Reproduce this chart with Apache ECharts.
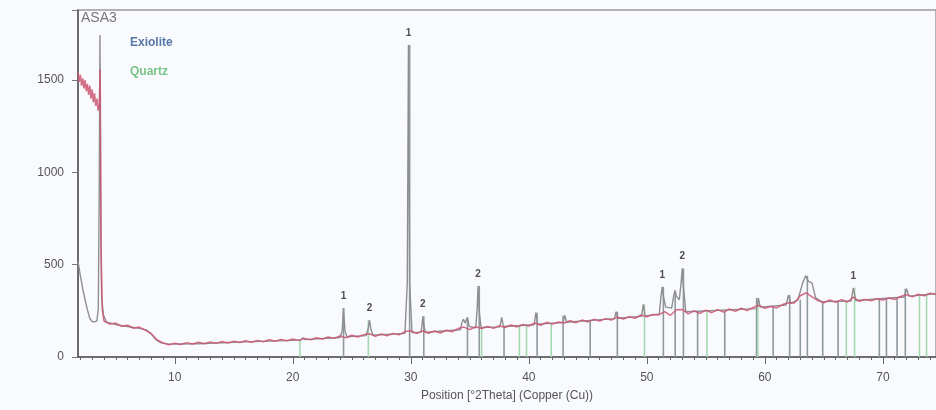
<!DOCTYPE html>
<html>
<head>
<meta charset="utf-8">
<script src="https://cdn.jsdelivr.net/npm/echarts@6/dist/echarts.min.js"></script>
<style>
  html, body { margin: 0; padding: 0; background: #f8fafd; }
  #chart { width: 936px; height: 410px; }
</style>
</head>
<body>
<div id="chart"></div>
<script>
// Sample ASA3 – X-ray diffraction scan, Cu K-alpha
const sampleName = 'ASA3';
const axisTitle = 'Position [°2Theta] (Copper (Cu))';
const xTickLabels = [10, 20, 30, 40, 50, 60, 70];
const yTickLabels = [0, 500, 1000, 1500];
const phaseNames = ['Exiolite', 'Quartz'];

// Measured counts [°2θ, counts]
const observed = [
  [1.8,1545],[1.9,1490],[2.0,1530],[2.1,1470],[2.2,1510],[2.3,1455],[2.4,1500],[2.5,1440],
  [2.6,1480],[2.7,1420],[2.8,1470],[2.9,1400],[3.0,1450],[3.1,1380],[3.2,1430],[3.3,1360],
  [3.4,1400],[3.5,1335],[3.6,1370],[3.68,1560],[3.75,600],[3.85,260],[4.0,195],[4.5,178],
  [5.0,184],[5.5,166],[6.0,172],[6.5,156],[7.0,162],[7.5,146],[8.0,128],[8.5,92],[9.0,76],
  [9.5,66],[10.0,74],[10.5,68],[11.0,78],[11.5,70],[12.0,80],[12.5,72],[13.0,82],[13.5,74],
  [14.0,84],[14.5,76],[15.0,86],[15.5,79],[16.0,88],[16.5,80],[17.0,90],[17.5,83],[18.0,93],
  [18.5,85],[19.0,95],[19.5,88],[20.0,97],[20.5,90],[21.0,101],[21.5,93],[22.0,104],[22.5,97],
  [23.0,108],[23.5,101],[24.0,114],[24.5,104],[25.0,118],[25.5,108],[26.0,121],[26.5,126],
  [27.0,112],[27.5,125],[28.0,115],[28.5,128],[29.0,120],[29.5,138],[30.0,142],[30.5,127],
  [31.0,141],[31.5,129],[32.0,141],[32.5,130],[33.0,145],[33.5,137],[34.0,154],[34.5,162],
  [35.0,148],[35.5,164],[36.0,154],[36.5,166],[37.0,155],[37.5,169],[38.0,160],[38.5,173],
  [39.0,163],[39.5,176],[40.0,168],[40.5,184],[41.0,172],[41.5,188],[42.0,178],[42.5,190],
  [43.0,184],[43.5,196],[44.0,186],[44.5,200],[45.0,190],[45.5,204],[46.0,195],[46.5,208],
  [47.0,200],[47.5,216],[48.0,206],[48.5,219],[49.0,210],[49.5,228],[50.0,218],[50.5,230],
  [51.0,228],[51.5,246],[52.0,226],[52.5,256],[53.0,258],[53.5,234],[54.0,250],[54.5,236],
  [55.0,254],[55.5,240],[56.0,257],[56.5,243],[57.0,260],[57.5,247],[58.0,264],[58.5,251],
  [59.0,268],[59.5,280],[60.0,264],[60.5,274],[61.0,266],[61.5,284],[62.0,294],[62.5,292],
  [63.0,332],[63.5,348],[64.0,326],[64.5,306],[65.0,294],[65.5,309],[66.0,296],[66.5,311],
  [67.0,298],[67.5,324],[68.0,302],[68.5,312],[69.0,304],[69.5,316],[70.0,309],[70.5,320],
  [71.0,312],[71.5,328],[72.0,338],[72.5,326],[73.0,340],[73.5,332],[74.0,346],[74.5,340]
];

// Fitted profile [°2θ, counts]
const profile = [
  [1.8,520],[2.0,440],[2.2,370],[2.4,310],[2.6,255],[2.8,210],[3.0,192],[3.2,190],[3.4,196],
  [3.52,260],[3.6,900],[3.66,1745],[3.72,900],[3.8,330],[3.95,230],[4.2,190],[5,175],[6,165],
  [7,155],[7.6,146],[8.0,124],[8.4,95],[8.8,78],[9.5,70],[12,72],[16,82],[20,90],[20.7,93],
  [20.85,105],[21.0,94],[24.0,106],[24.18,140],[24.3,265],[24.42,140],[24.6,110],[26.2,116],
  [26.38,150],[26.5,200],[26.62,150],[26.8,118],[29.5,128],[29.7,400],[29.8,1690],[29.9,400],
  [30.1,132],[30.85,134],[30.95,170],[31.02,220],[31.1,170],[31.25,134],[34.2,148],[34.35,190],
  [34.45,205],[34.6,185],[34.8,215],[34.95,165],[35.5,158],[35.62,260],[35.7,385],[35.78,260],
  [35.95,160],[37.55,163],[37.7,215],[37.85,165],[40.45,175],[40.6,240],[40.75,178],[42.9,187],
  [43.05,225],[43.2,188],[47.25,208],[47.4,245],[47.55,210],[49.55,220],[49.7,285],[49.85,223],
  [51.05,232],[51.2,330],[51.3,380],[51.4,330],[51.6,270],[52.1,265],[52.3,340],[52.4,360],
  [52.5,330],[52.75,310],[52.9,400],[53.0,480],[53.1,380],[53.3,245],[59.3,262],[59.45,320],
  [59.6,270],[61.8,282],[62.0,335],[62.2,290],[62.8,310],[63.2,400],[63.45,440],[63.7,410],
  [64.0,400],[64.3,320],[64.8,300],[67.3,303],[67.5,375],[67.7,306],[71.8,325],[72.0,370],
  [72.2,330],[74.5,343]
];

// Reference stick patterns [°2θ, counts]
const exioliteSticks = [
  [24.3,265],[29.9,1690],[31.1,220],[34.8,210],[35.8,385],[37.9,165],[40.7,240],[42.9,225],
  [45.2,195],[47.5,245],[51.4,380],[52.4,360],[53.1,480],[54.3,245],[56.6,250],[59.3,320],
  [60.7,270],[62.1,335],[63.0,310],[63.6,440],[64.9,300],[66.2,300],[69.7,312],[70.3,315],
  [71.2,318],[71.9,370]
];
const quartzSticks = [
  [20.6,95],[26.4,200],[36.0,160],[39.2,170],[39.8,172],[41.9,180],[49.8,285],[55.1,247],
  [59.4,300],[66.9,302],[67.6,375],[73.1,333],[73.7,338]
];

// Phase markers above identified reflections [°2θ, counts, phase no.]
const peakMarks = [
  [24.3,265,'1'],[26.5,200,'2'],[29.8,1690,'1'],[31.02,220,'2'],[35.7,385,'2'],
  [51.3,380,'1'],[53.0,480,'2'],[67.5,375,'1']
];

const minorTicks = [];
for (let v = 2; v <= 74; v++) minorTicks.push(v);

function stickSeries(name, data, color) {
  return {
    name: name,
    type: 'custom',
    data: data,
    z: 1,
    renderItem: function (params, api) {
      const p0 = api.coord([api.value(0), 0]);
      const p1 = api.coord([api.value(0), api.value(1)]);
      return {
        type: 'line',
        shape: { x1: p0[0], y1: p0[1], x2: p1[0], y2: p1[1] },
        style: { stroke: color, lineWidth: 1.6 }
      };
    }
  };
}

const chart = echarts.init(document.getElementById('chart'));
const axisGray = '#555';
chart.setOption({
  backgroundColor: '#f8fafd',
  animation: false,
  textStyle: { fontFamily: 'Liberation Sans, Arial, sans-serif' },
  grid: { left: 78, right: 0, top: 10, bottom: 53, show: true, borderColor: '#9a9a9a', borderWidth: 1.5, backgroundColor: 'transparent' },
  xAxis: [
    {
      type: 'value', min: 1.8, max: 74.5, position: 'bottom',
      axisLine: { show: true, lineStyle: { color: axisGray, width: 1.5 } },
      axisTick: { show: true, customValues: minorTicks, length: 3, lineStyle: { color: '#666' } },
      axisLabel: { customValues: xTickLabels, color: '#555', fontSize: 12, margin: 15 },
      splitLine: { show: false },
      name: axisTitle, nameLocation: 'middle', nameGap: 33,
      nameTextStyle: { color: '#555', fontSize: 12 }
    },
    {
      type: 'value', min: 1.8, max: 74.5, position: 'bottom',
      axisLine: { show: false },
      axisTick: { show: true, customValues: xTickLabels, length: 7, lineStyle: { color: '#666' } },
      axisLabel: { show: false },
      splitLine: { show: false }
    }
  ],
  yAxis: {
    type: 'value', min: 0, max: 1880, interval: 500,
    axisLine: { show: true, lineStyle: { color: axisGray, width: 1.5 } },
    axisTick: { show: true, length: 6, lineStyle: { color: '#777' } },
    axisLabel: { color: '#555', fontSize: 12, margin: 14,
      formatter: function (v) { return yTickLabels.indexOf(v) >= 0 ? String(v) : ''; } },
    splitLine: { show: false }
  },
  series: [
    stickSeries(phaseNames[0], exioliteSticks, '#9098a0'),
    stickSeries(phaseNames[1], quartzSticks, '#a6d8b0'),
    {
      name: 'profile', type: 'line', data: profile, showSymbol: false, z: 2,
      lineStyle: { color: '#8e8e92', width: 1.4 }
    },
    {
      name: 'observed', type: 'line', data: observed, showSymbol: false, z: 3,
      lineStyle: { color: '#cc5572', width: 1.5, opacity: 0.85 }
    },
    {
      name: 'marks', type: 'scatter', data: peakMarks, symbolSize: 0, z: 4,
      label: { show: true, position: 'top', distance: 7, color: '#222', fontSize: 10, fontWeight: 'bold',
        formatter: function (p) { return p.value[2]; } }
    }
  ],
  graphic: [
    { type: 'text', left: 81, top: 11, style: { text: sampleName, fill: '#777', font: '14px Liberation Sans, Arial, sans-serif' } },
    { type: 'text', left: 130, top: 37, style: { text: phaseNames[0], fill: '#5878a8', font: 'bold 12px Liberation Sans, Arial, sans-serif' } },
    { type: 'text', left: 130, top: 66, style: { text: phaseNames[1], fill: '#78c488', font: 'bold 12px Liberation Sans, Arial, sans-serif' } }
  ]
});
</script>
</body>
</html>
